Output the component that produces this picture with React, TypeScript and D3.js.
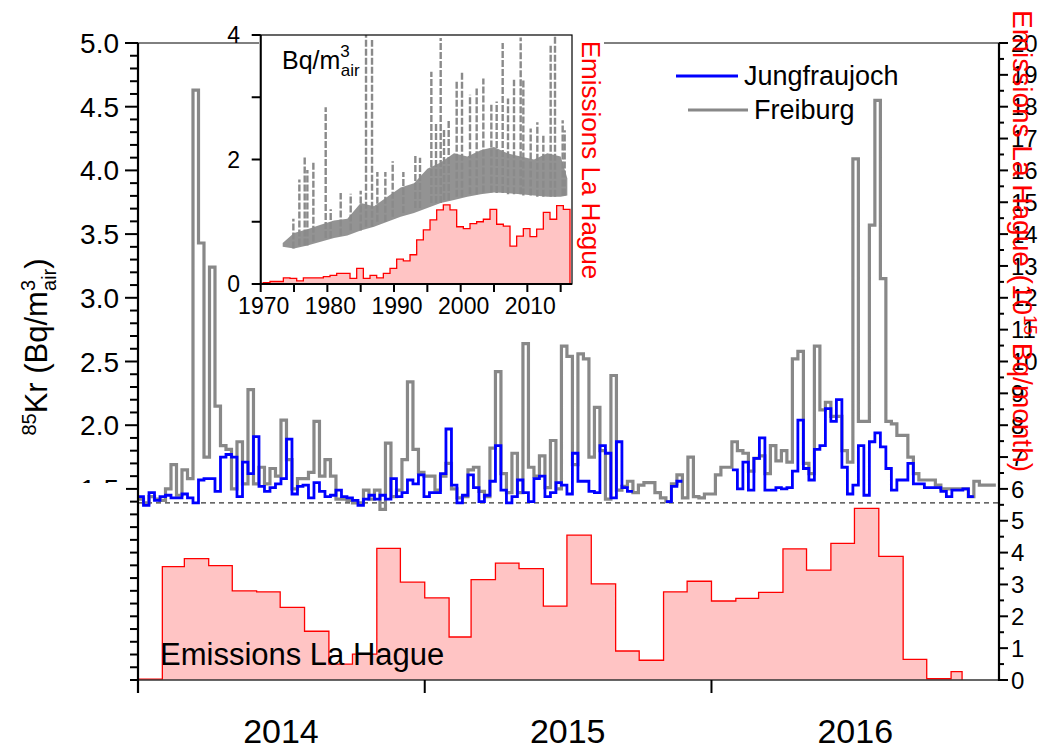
import React from "react";
import * as d3 from "d3";

const FONT = "Liberation Sans, Arial, Helvetica, sans-serif";

// weekly 85Kr activity (Bq/m3 air), weeks starting 2014-01-01
const freiburg2014 = [1.42,1.39,1.44,1.42,1.41,1.50,1.69,1.45,1.65,1.58,4.63,3.43,1.75,3.24,2.15,1.84,1.81,1.50,1.87,1.54,2.28,1.54,1.67,1.54,1.66,1.60,2.04,1.73,1.50,1.58,1.58,1.63,2.03,1.60,1.73,1.60,1.42,1.42,1.41,1.39,1.39,1.49,1.42,1.49,1.34,1.86,1.44,1.49,1.73,2.34,1.81,1.63];
const freiburg2015 = [1.60,1.60,1.49,1.60,1.70,1.50,1.43,1.44,1.65,1.67,1.48,1.44,1.82,2.42,1.62,1.47,1.78,1.47,2.64,1.67,1.60,1.76,1.51,1.88,1.50,2.62,2.54,1.69,2.56,2.52,1.75,2.14,1.80,1.42,2.39,1.49,1.52,1.56,1.47,1.53,1.55,1.55,1.47,1.43,1.40,1.54,1.61,1.43,1.75,1.44,1.43,1.46];
const freiburg2016 = [1.46,1.61,1.67,1.67,1.87,1.80,1.78,1.64,1.74,1.76,1.62,1.84,1.72,1.80,1.71,2.52,2.58,1.70,1.62,2.62,2.12,2.18,2.07,2.07,1.80,1.71,4.09,2.03,2.03,3.57,4.55,3.15,2.03,2.01,1.92,1.92,1.75,1.62,1.57,1.57,1.57,1.53,1.50,1.50,1.50,1.50,1.50,1.44,1.56,1.53,1.53,1.53];

const jungfrau2014 = [1.44,1.37,1.47,1.41,1.44,1.45,1.43,1.43,1.46,1.43,1.39,1.57,1.58,1.58,1.48,1.75,1.77,1.75,1.44,1.71,1.62,1.91,1.52,1.48,1.51,1.54,1.58,1.89,1.46,1.52,1.53,1.43,1.55,1.48,1.44,1.45,1.49,1.44,1.43,1.41,1.37,1.42,1.45,1.42,1.45,1.42,1.58,1.44,1.47,1.57,1.54,1.61];
const jungfrau2015 = [1.44,1.47,1.47,1.62,1.97,1.53,1.39,1.45,1.61,1.51,1.40,1.45,1.56,1.84,1.49,1.39,1.44,1.57,1.47,1.40,1.58,1.60,1.44,1.47,1.55,1.53,1.46,1.78,1.56,1.56,1.48,1.47,1.84,1.78,1.43,1.87,1.51,1.48,null,null,null,null,null,null,1.40,1.52,1.56,null,null,null,null,null];
const jungfrau2016 = [null,null,null,null,1.65,1.50,1.71,1.49,1.74,1.90,1.49,1.49,1.51,1.50,1.51,1.64,2.04,1.66,1.57,1.81,1.84,2.13,2.03,2.20,1.67,1.46,1.53,1.84,1.45,1.87,1.94,1.83,1.66,1.49,1.57,1.57,1.70,1.54,1.54,1.51,1.51,1.51,1.48,1.44,1.49,1.49,1.50,1.44];

// monthly emissions La Hague (10^15 Bq/month), months starting 2014-01
const emissions2014 = [0.03,3.56,3.81,3.59,2.80,2.77,2.28,1.53,0.50,0.81,4.13,3.07];
const emissions2015 = [2.58,1.35,3.15,3.67,3.50,2.32,4.55,3.02,0.91,0.62,2.77,3.10];
const emissions2016 = [2.48,2.56,2.75,4.12,3.45,4.29,5.39,3.88,0.65,0.04,0.26];

// inset: long-term Freiburg record and annual emissions
const insetBandYears = [1973.3,1975,1977,1979,1981,1983,1985,1987,1989,1991,1993,1995,1997,1999,2001,2003,2005,2007,2009,2011,2013,2015,2016];
const insetBandLow = [0.60,0.57,0.62,0.68,0.74,0.78,0.86,0.92,1.00,1.08,1.14,1.22,1.30,1.35,1.40,1.44,1.47,1.46,1.44,1.42,1.40,1.40,1.42];
const insetBandHigh = [0.66,0.82,0.88,0.95,1.02,1.05,1.30,1.25,1.40,1.55,1.62,1.85,1.95,2.10,2.05,2.15,2.20,2.10,2.05,2.00,2.10,2.05,1.70];
const insetSpikes = [[1974.9,1.05],[1975.8,1.68],[1976.6,2.06],[1977.0,1.83],[1977.9,1.97],[1979.75,2.84],[1980.5,1.2],[1982.0,1.46],[1983.5,1.45],[1985.0,1.5],[1985.8,4.0],[1986.7,3.92],[1987.5,1.8],[1988.7,1.8],[1989.8,1.97],[1991.4,1.8],[1993.2,2.08],[1993.9,2.03],[1995.6,3.41],[1996.3,2.6],[1997.0,3.95],[1997.5,2.5],[1998.2,2.63],[1999.4,3.28],[2000.2,3.41],[2001.4,3.04],[2002.4,3.14],[2003.4,3.3],[2004.6,2.88],[2005.4,2.93],[2006.3,3.87],[2007.1,2.98],[2008.0,3.28],[2009.0,3.96],[2009.4,3.28],[2010.5,2.5],[2011.5,2.6],[2012.4,2.39],[2013.5,3.84],[2014.15,4.0],[2015.3,2.63],[2015.6,2.47]];
const insetEmissionYears = d3.range(1970, 2017);
const insetEmissions = [0.01,0.02,0.04,0.04,0.10,0.09,0.05,0.10,0.10,0.10,0.12,0.14,0.17,0.17,0.09,0.25,0.09,0.14,0.10,0.17,0.25,0.40,0.37,0.47,0.71,0.87,1.03,1.19,1.27,1.19,0.92,0.89,0.97,1.00,1.04,1.20,0.96,0.93,0.61,0.77,0.89,0.76,0.88,1.15,1.04,1.26,1.20];

const yearLabels = ["2014", "2015", "2016"];
const krLabels = [1.5, 2.0, 2.5, 3.0, 3.5, 4.0, 4.5, 5.0];
const insetXLabels = [1970, 1980, 1990, 2000, 2010];
const insetYLabels = [0, 2, 4];

const start = new Date(2014, 0, 1);
const x = d3.scaleTime().domain([start, new Date(2017, 0, 1)]).range([138, 999]);
const yKr = d3.scaleLinear().domain([0, 5]).range([680, 43]);
const yEm = d3.scaleLinear().domain([0, 20]).range([680, 43]);
const xi = d3.scaleLinear().domain([1970, 2016.7]).range([260.7, 572]);
const yi = d3.scaleLinear().domain([0, 4]).range([284, 35]);

type Pt = [number, number] | null;
const lineGen = d3.line<Pt>().defined((p) => p != null).x((p) => p![0]).y((p) => p![1]);

function weeklySteps(values: (number | null)[]) {
  const pts: Pt[] = [];
  values.forEach((v, i) => {
    if (v == null) { pts.push(null); return; }
    pts.push([x(d3.timeDay.offset(start, i * 7)), yKr(v)]);
    pts.push([x(d3.timeDay.offset(start, (i + 1) * 7)), yKr(v)]);
  });
  return lineGen(pts) || "";
}

const freiburg = [...freiburg2014, ...freiburg2015, ...freiburg2016];
const jungfrau = [...jungfrau2014, ...jungfrau2015, ...jungfrau2016];
const emissions = [...emissions2014, ...emissions2015, ...emissions2016];
const emissionsEnd = new Date(2016, 10, 15);

function emissionPts() {
  const pts: [number, number][] = [[x(start), yEm(0)]];
  emissions.forEach((v, i) => {
    const t0 = d3.timeMonth.offset(start, i);
    let t1 = d3.timeMonth.offset(start, i + 1);
    if (t1 > emissionsEnd) t1 = emissionsEnd;
    pts.push([x(t0), yEm(v)], [x(t1), yEm(v)]);
  });
  pts.push([x(emissionsEnd), yEm(0)]);
  return pts;
}

function insetEmissionPts() {
  const pts: [number, number][] = [[xi(1970), yi(0)]];
  insetEmissionYears.forEach((yr, i) => {
    const a = Math.max(1970, yr - 0.6), b = yr + 0.4;
    pts.push([xi(a), yi(insetEmissions[i])], [xi(b), yi(insetEmissions[i])]);
  });
  const last = insetEmissionYears[insetEmissionYears.length - 1] + 0.4;
  pts.push([xi(last), yi(0)]);
  return pts;
}

export default function App() {
  const em = emissionPts();
  const emLine = d3.line()(em) || "";
  const emArea = d3.area().y0(yEm(0)).y1((p) => p[1])(em) || "";
  const iem = insetEmissionPts();
  const iemLine = d3.line()(iem) || "";
  const iemArea = d3.area().y0(yi(0)).y1((p) => p[1])(iem) || "";
  const band = d3
    .area<number>()
    .x((_, i) => xi(insetBandYears[i]))
    .y0((_, i) => yi(insetBandLow[i]))
    .y1((d) => yi(d))(insetBandHigh) || "";
  const lowAt = (yr: number) => {
    const j = d3.bisectLeft(insetBandYears, yr);
    return insetBandLow[Math.min(j, insetBandLow.length - 1)];
  };

  const leftTicks = d3.range(0, 51).map((i) => i / 10);
  const rightTicks = d3.range(0, 41).map((i) => i / 2);
  const yearTicks = [2014, 2015, 2016].map((y) => new Date(y, 0, 1));

  return (
    <svg width={1041} height={749} style={{ position: "absolute", left: 0, top: 0, background: "#fff" }} fontFamily={FONT}>
      <defs>
        <clipPath id="plot">
          <rect x={138} y={43} width={861} height={637} />
        </clipPath>
      </defs>

      {/* lower panel: monthly emissions */}
      <path d={emArea} fill="#ffc4c4" />
      <path d={emLine} fill="none" stroke="#ff0000" strokeWidth={1.3} />
      <text x={160} y={665} fontSize={31} fill="#000">Emissions La Hague</text>

      {/* dashed baseline */}
      <line x1={138} x2={999} y1={yKr(1.39)} y2={yKr(1.39)} stroke="#000" strokeWidth={1} strokeDasharray="5,4" />

      {/* Kr series */}
      <g clipPath="url(#plot)">
        <path d={weeklySteps(freiburg)} fill="none" stroke="#888" strokeWidth={3.2} />
        <path d={weeklySteps(jungfrau)} fill="none" stroke="#0000ff" strokeWidth={2.8} />
      </g>

      {/* frame */}
      <line x1={138} x2={999} y1={43} y2={43} stroke="#000" strokeWidth={1} />
      <line x1={138} x2={999} y1={680} y2={680} stroke="#333" strokeWidth={1.5} />
      <line x1={138} x2={138} y1={43} y2={693} stroke="#000" strokeWidth={2.2} />
      <line x1={999} x2={999} y1={43} y2={681} stroke="#000" strokeWidth={2.2} />

      {/* left axis */}
      {leftTicks.map((v) => {
        const major = Math.round(v * 10) % 5 === 0 && v >= 1.5;
        return <line key={"l" + v} x1={138} x2={major ? 125 : 130} y1={yKr(v)} y2={yKr(v)} stroke="#000" strokeWidth={2} />;
      })}
      {krLabels.map((v) => (
        <text key={"ll" + v} x={119} y={yKr(v)} dy="0.36em" fontSize={28} textAnchor="end">{v.toFixed(1)}</text>
      ))}
      <rect x={60} y={483} width={66} height={40} fill="#fff" />
      <text transform="translate(47,347) rotate(-90)" textAnchor="middle" fontSize={31}>
        <tspan fontSize={20} dy={-11}>85</tspan>
        <tspan dy={11}>Kr (Bq/m</tspan>
        <tspan fontSize={20} dy={-12}>3</tspan>
        <tspan fontSize={20} dx={-11} dy={21}>air</tspan>
        <tspan dy={-9}>)</tspan>
      </text>

      {/* right axis */}
      {rightTicks.map((v) => {
        const major = Number.isInteger(v);
        return <line key={"r" + v} x1={999} x2={major ? 1008 : 1004} y1={yEm(v)} y2={yEm(v)} stroke="#000" strokeWidth={2} />;
      })}
      {d3.range(0, 21).map((v) => (
        <text key={"rl" + v} x={1011} y={yEm(v)} dy="0.36em" fontSize={24}>{v}</text>
      ))}
      <text transform="translate(1013,10) rotate(90)" fontSize={28} fill="#ff0000">
        Emissions La Hague (10<tspan fontSize={18} dy={-11}>15</tspan><tspan dy={11}> Bq/month)</tspan>
      </text>

      {/* bottom axis */}
      {yearTicks.map((t, i) => (
        <line key={"xt" + i} x1={x(t)} x2={x(t)} y1={680} y2={693} stroke="#000" strokeWidth={2} />
      ))}
      {yearLabels.map((lab, i) => (
        <text key={lab} x={x(new Date(2014 + i, 6, 2))} y={743} fontSize={34} textAnchor="middle">{lab}</text>
      ))}

      {/* legend */}
      <line x1={676} x2={738} y1={76} y2={76} stroke="#0000ff" strokeWidth={3} />
      <text x={744} y={85} fontSize={27}>Jungfraujoch</text>
      <line x1={688} x2={748} y1={110} y2={110} stroke="#888" strokeWidth={3} />
      <text x={754} y={119} fontSize={27}>Freiburg</text>

      {/* inset */}
      <rect x={259} y={30} width={345} height={256} fill="#fff" />
      <path d={iemArea} fill="#ffc4c4" />
      <path d={iemLine} fill="none" stroke="#ff0000" strokeWidth={1.3} />
      <path d={band} fill="#8a8a8a" fillOpacity={0.92} />
      {insetSpikes.map(([yr, v], i) => (
        <line key={"s" + i} x1={xi(yr)} x2={xi(yr)} y1={yi(lowAt(yr))} y2={yi(Math.min(v, 4))} stroke="#8a8a8a" strokeWidth={2.4} strokeDasharray="7,2" />
      ))}
      <rect x={xi(1970)} y={yi(4)} width={xi(2016.7) - xi(1970)} height={yi(0) - yi(4)} fill="none" stroke="#000" strokeWidth={1.2} />
      <line x1={xi(1970)} x2={xi(1970)} y1={yi(4)} y2={yi(0)} stroke="#000" strokeWidth={2} />
      <line x1={xi(1970)} x2={xi(2016.7)} y1={yi(0)} y2={yi(0)} stroke="#000" strokeWidth={2} />
      {d3.range(0, 5).map((v) => (
        <line key={"iy" + v} x1={xi(1970)} x2={xi(1970) - 9} y1={yi(v)} y2={yi(v)} stroke="#000" strokeWidth={2} />
      ))}
      {d3.range(1970, 2016, 5).map((yr) => (
        <line key={"ix" + yr} x1={xi(yr)} x2={xi(yr)} y1={yi(0)} y2={yi(0) + 8} stroke="#000" strokeWidth={2} />
      ))}
      {insetYLabels.map((v) => (
        <text key={"iyl" + v} x={240} y={yi(v)} dy="0.36em" fontSize={23} textAnchor="end">{v}</text>
      ))}
      {insetXLabels.map((yr) => (
        <text key={"ixl" + yr} x={xi(yr) + 3} y={314} fontSize={23} textAnchor="middle">{yr}</text>
      ))}
      <text x={282} y={69} fontSize={25}>
        Bq/m<tspan fontSize={17} dy={-12}>3</tspan><tspan fontSize={17} dx={-9} dy={19}>air</tspan>
      </text>
      <text transform="translate(582,160) rotate(90)" fontSize={26} fill="#ff0000" textAnchor="middle">Emissions La Hague</text>
    </svg>
  );
}
